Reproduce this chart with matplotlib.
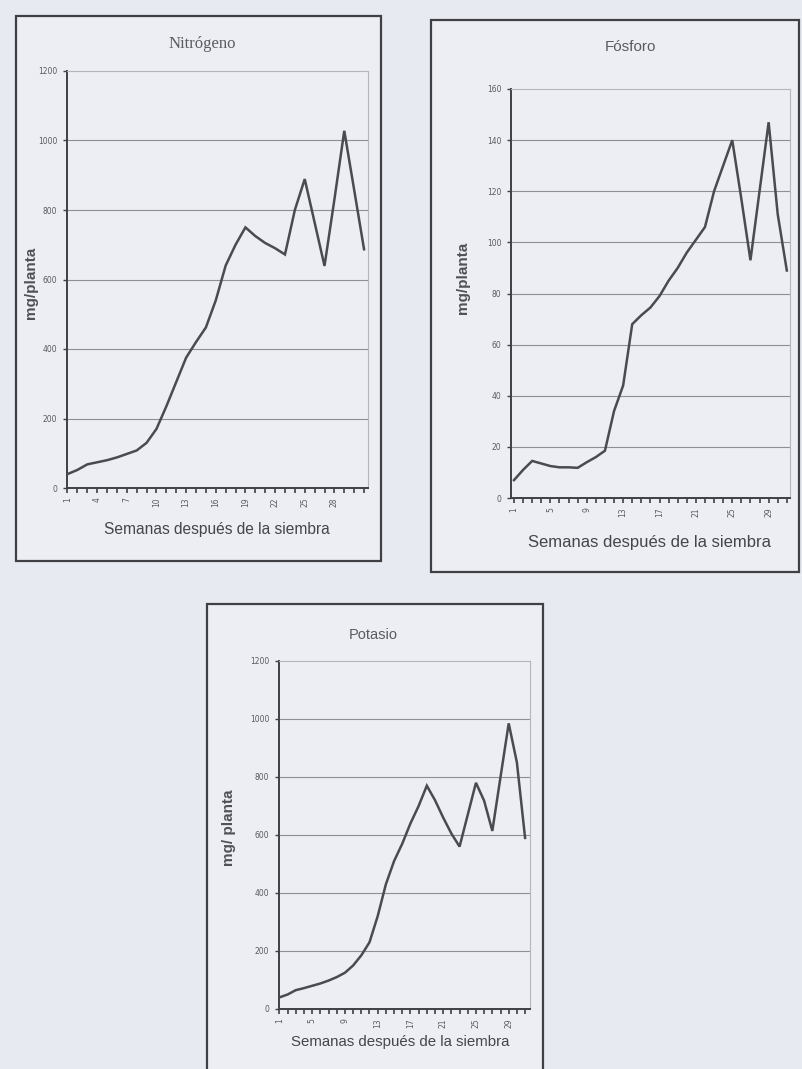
import matplotlib
matplotlib.use("Agg")
import matplotlib.pyplot as plt
from matplotlib.patches import Rectangle

W, H = 802, 1069

semanas = list(range(1, 32))

nitrogeno = [40, 52, 68, 74, 80, 88, 98, 108, 130, 170, 235, 305, 375, 420, 462,
             540, 640, 700, 750, 725, 705, 690, 672, 800, 889, 764, 639, 830, 1028, 858, 687]
fosforo = [7, 11, 14.5, 13.5, 12.5, 12, 12, 11.8, 14, 16, 18.5, 34, 44, 68, 71.5,
           74.5, 79, 85, 90, 96, 101, 106, 120, 130, 140, 117, 93, 120, 147, 111, 89]
potasio = [40, 50, 65, 72, 80, 88, 98, 110, 125, 150, 185, 230, 320, 430, 510,
           570, 640, 700, 770, 720, 660, 605, 560, 670, 780, 718, 614, 800, 985, 850, 590]

titulos = ["Nitrógeno", "Fósforo", "Potasio"]
etiquetas_y = ["mg/planta", "mg/planta", "mg/ planta"]
etiqueta_x = "Semanas después de la siembra"
ticks_n = [1, 4, 7, 10, 13, 16, 19, 22, 25, 28]
ticks_pk = [1, 5, 9, 13, 17, 21, 25, 29]
yticks_n = [0, 200, 400, 600, 800, 1000, 1200]
yticks_p = [0, 20, 40, 60, 80, 100, 120, 140, 160]
yticks_k = [0, 200, 400, 600, 800, 1000, 1200]

BG = "#e7eaf1"
LINE = "#4b4b4f"
TXT = "#5a5a60"

fig = plt.figure(figsize=(W / 100, H / 100), dpi=100, facecolor=BG)


def fx(x):
    return x / W


def fy(y):
    return 1 - y / H


def box(x0, y0, x1, y1):
    r = Rectangle((fx(x0), fy(y1)), fx(x1) - fx(x0), fy(y0) - fy(y1),
                  transform=fig.transFigure, fill=True,
                  facecolor="#eceef4", edgecolor="#3f3f44", lw=1.6, zorder=-5)
    fig.patches.append(r)


def panel(rect, vals, ymax, yticks, xticks, xlim, title, tpos, ylab, ylpos, xlpos,
          title_kw, xl_size):
    x0, y0, x1, y1 = rect
    ax = fig.add_axes([fx(x0), fy(y1), fx(x1) - fx(x0), fy(y0) - fy(y1)])
    ax.set_zorder(2)
    ax.set_facecolor("none")
    ax.plot(semanas, vals, color=LINE, lw=1.8, solid_joinstyle="miter", zorder=3)
    ax.set_xlim(*xlim)
    ax.set_ylim(0, ymax)
    ax.set_yticks(yticks)
    ax.set_yticklabels([str(v) for v in yticks], fontsize=5.5, color=TXT)
    for v in yticks[1:-1]:
        ax.axhline(v, color="#8d8f96", lw=0.8, zorder=1)
    ax.set_xticks(semanas)
    ax.set_xticklabels([str(s) if s in xticks else "" for s in semanas],
                       rotation=90, fontsize=5.5, color=TXT)
    ax.tick_params(axis="x", length=3.5, width=1.2, color="#3f3f44", pad=3)
    ax.tick_params(axis="y", length=3, width=1.0, color="#3f3f44", pad=4)
    for s in ("left", "bottom"):
        ax.spines[s].set_color("#3f3f44")
        ax.spines[s].set_linewidth(1.4)
    for s in ("top", "right"):
        ax.spines[s].set_color("#b4b6bd")
        ax.spines[s].set_linewidth(0.8)
    fig.text(fx(tpos[0]), fy(tpos[1]), title, ha="center", va="center",
             color=TXT, **title_kw)
    fig.text(fx(ylpos[0]), fy(ylpos[1]), ylab, ha="center", va="center",
             rotation=90, fontsize=11, fontweight="bold", color="#505055",
             family="Liberation Sans")
    fig.text(fx(xlpos[0]), fy(xlpos[1]), etiqueta_x, ha="center", va="center",
             fontsize=xl_size, color="#45454a", family="Liberation Sans")
    return ax


# boxes
box(16, 16, 381, 561)
box(431, 20, 799, 572)
box(207, 604, 543, 1085)

panel((67, 71, 368, 488), nitrogeno, 1200, yticks_n, ticks_n, (0.95, 31.4),
      titulos[0], (202, 44), etiquetas_y[0], (31, 283), (217, 530),
      dict(fontsize=12, family="Liberation Serif"), 11.2)
panel((511, 89, 790, 498), fosforo, 160, yticks_p, ticks_pk, (0.67, 31.35),
      titulos[1], (630, 47), etiquetas_y[1], (463, 278), (650, 543),
      dict(fontsize=11, family="Liberation Sans"), 12)
panel((279, 661, 530, 1009), potasio, 1200, yticks_k, ticks_pk, (0.95, 31.6),
      titulos[2], (373, 635), etiquetas_y[2], (229, 828), (400, 1042),
      dict(fontsize=10.5, family="Liberation Sans"), 10.8)

fig.savefig("out.png", dpi=100, facecolor=BG)
